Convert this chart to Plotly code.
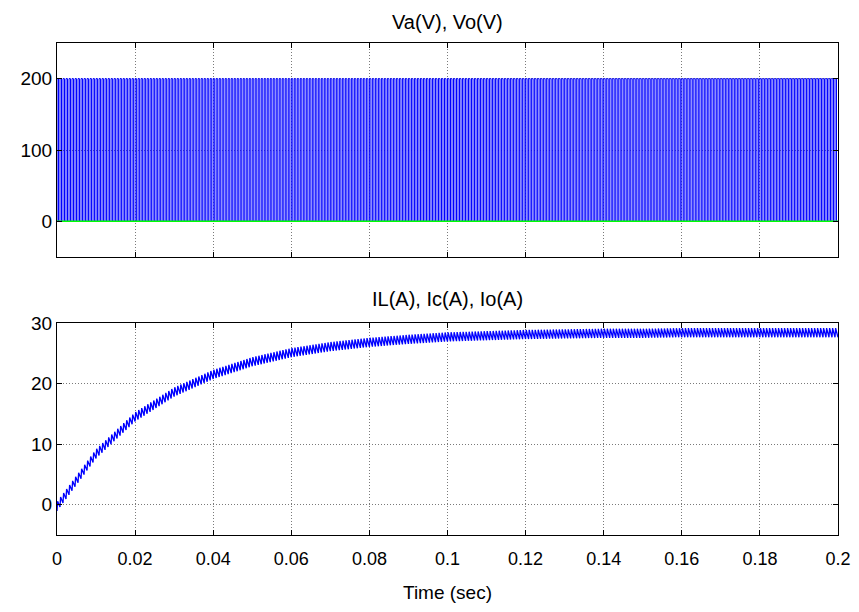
import numpy as np
import plotly.graph_objects as go

# ---- values ----
t_end = 0.2
va_levels = [0, 200]            # PWM switch voltage levels (V)
vo_level = 0                    # green trace (V)
n_va_periods = 260              # switching periods visible in 0.2 s
va_duty = 0.5
il_times = [0.00, 0.01, 0.02, 0.03, 0.04, 0.05, 0.06, 0.07, 0.08, 0.09, 0.10,
            0.11, 0.12, 0.13, 0.14, 0.15, 0.16, 0.17, 0.18, 0.19, 0.20]
il_mean = [-0.3, 8.4, 14.5, 18.6, 21.5, 23.6, 25.1, 26.1, 26.8, 27.3, 27.7,
           27.9, 28.1, 28.2, 28.3, 28.3, 28.4, 28.4, 28.4, 28.4, 28.4]
il_ripple_pp = 1.5
il_rise_frac = 0.2
n_il_periods = 260
x_ticks = [0, 0.02, 0.04, 0.06, 0.08, 0.1, 0.12, 0.14, 0.16, 0.18, 0.2]
x_ticklabels = ["0", "0.02", "0.04", "0.06", "0.08", "0.1", "0.12", "0.14", "0.16", "0.18", "0.2"]
top_yticks = [0, 100, 200]
bot_yticks = [0, 10, 20, 30]

# ---- build waveforms from the read values ----
Tsw = t_end / n_va_periods
va_t, va_v = [], []
for k in range(n_va_periods):
    t0 = k * Tsw
    t1 = t0 + va_duty * Tsw
    va_t += [t0, t0, t1, t1]
    va_v += [va_levels[0], va_levels[1], va_levels[1], va_levels[0]]

Ti = t_end / n_il_periods
il_t, il_v = [], []
for k in range(n_il_periods + 1):
    for frac, sgn in ((0.0, -1), (il_rise_frac, 1)):
        tt = (k + frac) * Ti
        if tt > t_end:
            break
        m = np.interp(tt, il_times, il_mean)
        il_t.append(tt)
        il_v.append(m + sgn * il_ripple_pp / 2)

# page body has an 8px margin: work in window pixels, shift by OFF
OFF = 8
W, Hh = 859 - OFF, 612 - OFF
ML, MR, MT, MB = 57 - OFF, 21, 43 - OFF, 77
H = Hh - MT - MB
def py(pix_window):
    return (Hh - MB - (pix_window - OFF)) / H

fig = go.Figure()
fig.add_trace(go.Scatter(x=va_t, y=va_v, mode="lines", xaxis="x", yaxis="y",
                         line=dict(color="#0000FF", width=1), showlegend=False))
fig.add_trace(go.Scatter(x=[0, t_end], y=[vo_level, vo_level], mode="lines", xaxis="x", yaxis="y",
                         line=dict(color="#00FF00", width=1.5), showlegend=False))
fig.add_trace(go.Scatter(x=il_t, y=il_v, mode="lines", xaxis="x2", yaxis="y2",
                         line=dict(color="#0000FF", width=1.3), showlegend=False))

yfont = dict(family="Liberation Sans, Arial, sans-serif", size=19, color="black")
xfont = dict(family="Liberation Sans Narrow, Liberation Sans, Arial, sans-serif", size=18, color="black")
lfont = dict(family="Liberation Sans Narrow, Liberation Sans, Arial, sans-serif", size=19, color="black")
tfont = dict(family="Liberation Sans, Arial, sans-serif", size=20, color="black")

axis_common = dict(showline=True, linecolor="black", linewidth=1, mirror="allticks",
                   ticks="inside", ticklen=5, tickcolor="black",
                   showgrid=True, gridcolor="#7a7a7a", griddash="1px,2px", gridwidth=1,
                   zeroline=False, automargin=False)

fig.update_layout(
    width=W, height=Hh,
    margin=dict(l=ML, r=MR, t=MT, b=MB),
    plot_bgcolor="white", paper_bgcolor="white",
    xaxis=dict(range=[0, t_end], tickvals=x_ticks, showticklabels=False,
               domain=[0, 1], anchor="y", **axis_common),
    yaxis=dict(range=[-50, 250], tickvals=top_yticks, tickfont=yfont,
               domain=[py(257), 1], anchor="x", **axis_common),
    xaxis2=dict(range=[0, t_end], tickvals=x_ticks, ticktext=x_ticklabels, tickfont=xfont,
                ticklabelstandoff=7,
                domain=[0, 1], anchor="y2", **axis_common),
    yaxis2=dict(range=[-5, 30], tickvals=bot_yticks, tickfont=yfont,
                domain=[0, py(323)], anchor="x2", **axis_common),
    annotations=[
        dict(text="Va(V), Vo(V)", x=0.5, y=py(22), xref="paper", yref="paper",
             yanchor="middle", showarrow=False, font=tfont),
        dict(text="IL(A), Ic(A), Io(A)", x=0.5, y=py(299), xref="paper", yref="paper",
             yanchor="middle", showarrow=False, font=tfont),
        dict(text="Time (sec)", x=0.5, y=py(592), xref="paper", yref="paper",
             yanchor="middle", showarrow=False, font=lfont),
    ],
)

fig.write_html("out.html")
